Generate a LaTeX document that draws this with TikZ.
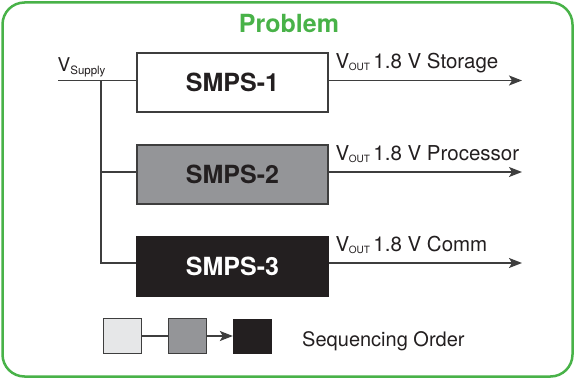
\documentclass[tikz,border=0pt]{standalone}
\usepackage{fontspec}
\setmainfont{TeX Gyre Heros}
\usetikzlibrary{arrows.meta}
\definecolor{frameGreen}{RGB}{72,178,72}
\definecolor{inkDark}{RGB}{35,31,32}
\definecolor{lineGray}{RGB}{62,62,62}
\definecolor{midGray}{RGB}{148,149,152}
\definecolor{lightGray}{RGB}{230,231,232}
\tikzset{
  smps/.style={draw=lineGray, line width=1.4pt, minimum width=191pt, minimum height=59pt,
    inner sep=0pt, font=\fontsize{25}{25}\selectfont\bfseries, text=inkDark},
  wire/.style={draw=lineGray, line width=1.4pt},
  tipstyle/.style={-{Stealth[length=13pt,width=10pt,inset=3pt]}},
  outarrow/.style={wire, tipstyle},
  outlabel/.style={anchor=base west, inner sep=0pt, text=inkDark, font=\fontsize{20.5}{20.5}\selectfont},
  legendsq/.style={draw=lineGray, line width=0.8pt, minimum width=38.5pt, minimum height=34.5pt, inner sep=0pt},
}
\newcommand{\vsub}[1]{V\kern-0.5pt\raisebox{-0.1em}{\fontsize{10}{10}\selectfont #1}}
\begin{document}
\begin{tikzpicture}[x=1pt,y=-1pt]
\useasboundingbox (0,0) rectangle (575,379);
% outer frame
\draw[frameGreen, line width=2.5pt, rounded corners=22pt] (2.5,2.5) rectangle (572.5,376.5);
\node[text=frameGreen, font=\fontsize{25}{25}\selectfont\bfseries, anchor=base] (title) at (289,33) {Problem};

% converters
\node[smps, fill=white] (s1) at (232.5,82.5) {SMPS-1};
\node[smps, fill=midGray] (s2) at (232.5,174.5) {SMPS-2};
\node[smps, fill=inkDark, draw=inkDark, text=white] (s3) at (232.5,266.5) {SMPS-3};

% supply bus
\coordinate (vin) at (58,80.5);
\coordinate (bus1) at (101,80.5);
\coordinate (bus2) at (101,172);
\coordinate (bus3) at (101,263);
\node[anchor=base west, inner sep=0pt, text=inkDark, font=\fontsize{19}{19}\selectfont] (vsup) at (57.5,71.5)
  {V\raisebox{-0.14em}{\fontsize{11.5}{11.5}\selectfont Supply}};
\draw[wire] (vin) -- (s1.west |- vin);
\draw[wire] (bus1) -- (bus3) -- (s3.west |- bus3);
\draw[wire] (bus2) -- (s2.west |- bus2);

% outputs
\coordinate (o1) at (522,80.5);
\coordinate (o2) at (522,172);
\coordinate (o3) at (522,263);
\draw[outarrow] (s1.east |- o1) -- (o1);
\draw[outarrow] (s2.east |- o2) -- (o2);
\draw[outarrow] (s3.east |- o3) -- (o3);
\node[outlabel] (l1) at (335.5,68.5) {\vsub{OUT}\,1.8 V Storage};
\node[outlabel] (l2) at (335.5,160.5) {\vsub{OUT}\,1.8 V Processor};
\node[outlabel] (l3) at (335.5,251.5) {\vsub{OUT}\,1.8 V Comm};

% sequencing legend
\node[legendsq, fill=lightGray] (q1) at (122.5,336) {};
\node[legendsq, fill=midGray] (q2) at (187.5,336) {};
\node[legendsq, fill=inkDark, draw=inkDark] (q3) at (252.5,336.5) {};
\draw[wire] (q1.east) -- (q2.west);
\draw[wire, tipstyle] (q2.east) -- (q3.west |- q2.east);
\node[anchor=base west, inner sep=0pt, text=inkDark, font=\fontsize{20}{20}\selectfont] (seq) at (302,346) {Sequencing Order};
\end{tikzpicture}
\end{document}
